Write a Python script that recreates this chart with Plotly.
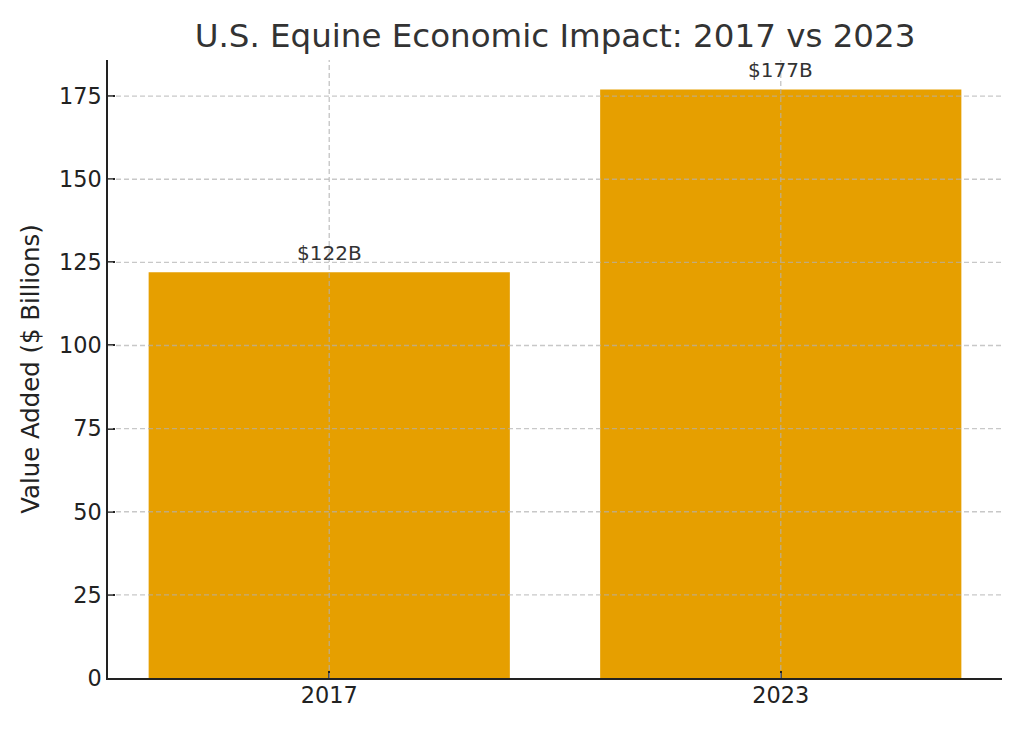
import plotly.graph_objects as go

years = ["2017", "2023"]
values = [122, 177]
labels = [f"${v}B" for v in values]
y_ticks = [0, 25, 50, 75, 100, 125, 150, 175]

FONT = "DejaVu Sans"
BAR = "#E69F00"
GRID = "rgba(176,176,176,0.7)"
GRID_DASH = "5px,3px"

fig = go.Figure()
fig.add_trace(go.Bar(
    x=list(range(len(years))), y=values, width=0.8,
    marker=dict(color=BAR, line=dict(width=0)),
    hoverinfo="skip",
))

# text labels above bars
for i, (v, t) in enumerate(zip(values, labels)):
    fig.add_annotation(x=i, y=v, text=t, showarrow=False, yanchor="bottom",
                       yshift=5, font=dict(family=FONT, size=20, color="#333333"))

# gridlines above bars (matplotlib style)
shapes = []
for t in y_ticks[1:]:
    shapes.append(dict(type="line", xref="paper", x0=0, x1=1, yref="y", y0=t, y1=t,
                       line=dict(color=GRID, width=1.4, dash=GRID_DASH), layer="above"))
for i in range(len(years)):
    shapes.append(dict(type="line", xref="x", x0=i, x1=i, yref="paper", y0=0, y1=1,
                       line=dict(color=GRID, width=1.4, dash=GRID_DASH), layer="above"))
fig.update_layout(shapes=shapes)

fig.update_layout(
    width=1024, height=731,
    margin=dict(l=108, r=22, t=60, b=53),
    paper_bgcolor="white", plot_bgcolor="white",
    showlegend=False,
    font=dict(family=FONT, color="#222222"),
    title=dict(text="U.S. Equine Economic Impact: 2017 vs 2023",
               font=dict(family=FONT, size=32.5, color="#333333"),
               x=0.542, xanchor="center", y=0.951, yanchor="middle"),
    xaxis=dict(range=[-0.49, 1.49], tickvals=list(range(len(years))), ticktext=years,
               showgrid=False, zeroline=False,
               showline=True, linecolor="#222222", linewidth=1.6,
               ticks="inside", ticklen=7, tickcolor="#222222", tickwidth=1.6,
               ticklabelstandoff=-4,
               tickfont=dict(family=FONT, size=22.4, color="#222222")),
    yaxis=dict(range=[0, 185.85], tickvals=y_ticks,
               showgrid=False, zeroline=False,
               showline=True, linecolor="#222222", linewidth=1.6,
               ticks="inside", ticklen=7, tickcolor="#222222", tickwidth=1.6,
               tickfont=dict(family=FONT, size=22.4, color="#222222"),
               title=dict(text="Value Added ($ Billions)", standoff=12,
                          font=dict(family=FONT, size=24.4, color="#222222"))),
)

fig.write_html("out.html", config={"displayModeBar": False},
               post_script="document.body.style.margin='0';")
